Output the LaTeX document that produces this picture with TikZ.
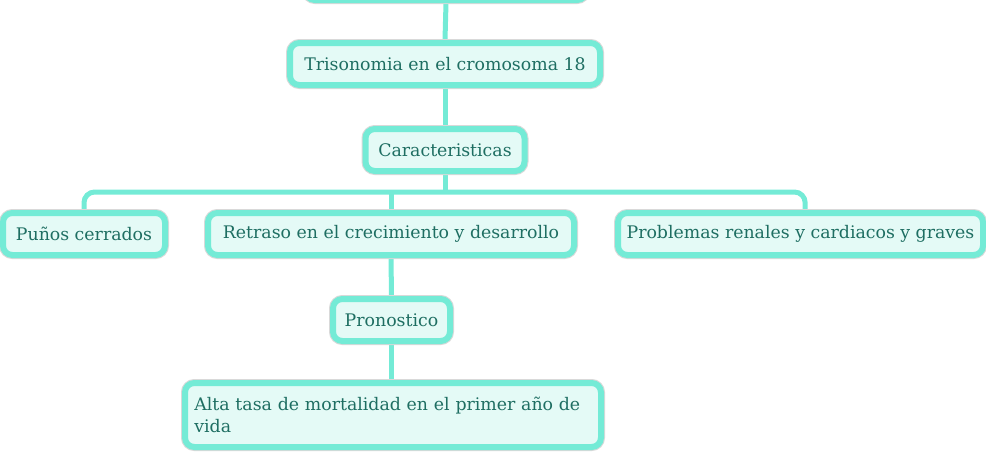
\documentclass[tikz,border=0pt]{standalone}
\usepackage{fontspec}
\setmainfont{DejaVu Serif}
\usetikzlibrary{positioning, backgrounds}
\definecolor{aqua}{RGB}{116,235,214}
\definecolor{paleaqua}{RGB}{228,250,246}
\definecolor{tealtext}{RGB}{30,110,98}

\begin{document}
\begin{tikzpicture}[x=0.75pt, y=-0.75pt,
    box/.style={rectangle, rounded corners=7pt, draw=aqua, fill=paleaqua, line width=4.5pt,
        minimum height=31.5pt, text=tealtext, font=\fontsize{13}{16.5}\selectfont, inner xsep=6pt,
        preaction={draw=black!15, line width=6pt}},
    link/.style={draw=aqua, line width=3.75pt, rounded corners=8pt}]
    \useasboundingbox (0,0) rectangle (986,451);
    \clip (0,0) rectangle (986,451);

    \node[box, minimum width=210.75pt]  at (446,-21) (top) {};
    \node[box, minimum width=232.5pt]  at (445,64) (tri) {Trisonomia en el cromosoma 18};
    \node[box, minimum width=119.25pt]  at (445,150) (car) {Caracteristicas};

    \node[box, minimum width=121.5pt]  at (84,234) (pun) {Puños cerrados};
    \node[box, minimum width=274.5pt]  at (391,234) (ret) {Retraso en el crecimiento y desarrollo};
    \node[box, minimum width=273.75pt]  at (800.5,234) (pro) {Problemas renales y cardiacos y graves};

    \node[box, minimum width=87.75pt]  at (391.5,320) (pron) {Pronostico};
    \node[box, text width=298pt, minimum width=312pt, minimum height=48pt, align=left]  at (393,415) (alta)
        {Alta tasa de mortalidad en el primer año de\\vida};

    \coordinate (bus) at (445,192);

    % connectors behind the boxes
    \begin{scope}[on background layer]
    \draw[link] (top.south) -- (tri.north);
    \draw[link] (tri.south) -- (car.north);
    \draw[link] (car.south) -- (bus);
    \draw[link] (pun.north) -- (pun.north |- bus) -- ([xshift=3.5pt]pro.north |- bus) -- ([xshift=3.5pt]pro.north);
    \draw[link] (ret.north |- bus) -- (ret.north);
    \draw[link] (ret.south) -- (pron.north);
    \draw[link] (pron.south) -- (alta.north -| pron.south);
    \end{scope}

\end{tikzpicture}
\end{document}
